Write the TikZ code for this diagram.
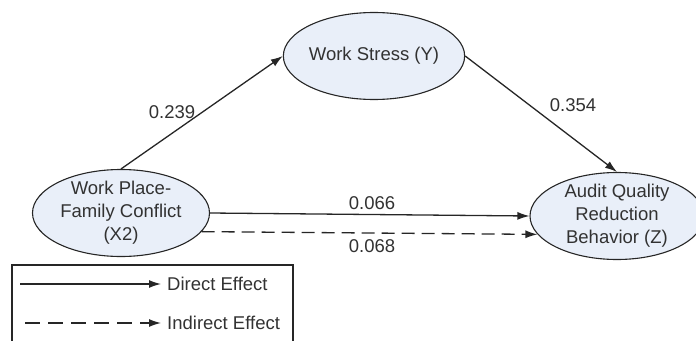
\documentclass[tikz,border=0pt]{standalone}
\usepackage{fontspec}
\setmainfont{Liberation Sans}
\usetikzlibrary{shapes.geometric,arrows.meta}
\definecolor{ellfill}{RGB}{233,239,249}
\definecolor{lineclr}{RGB}{38,38,38}
\definecolor{txtclr}{RGB}{50,50,50}
\begin{document}
\begin{tikzpicture}[x=1pt,y=-1pt,
  every node/.style={font=\fontsize{18.5}{23}\selectfont, text=txtclr},
  var/.style={ellipse, draw=lineclr, line width=1.1pt, fill=ellfill, inner sep=-1pt, align=center, minimum width=177pt, minimum height=87pt},
  conn/.style={draw=lineclr, line width=1.3pt, -{Latex[length=12pt,width=8pt]}},
  dashconn/.style={conn, dash pattern=on 13pt off 7pt},
  lbl/.style={inner sep=0pt}
]
\useasboundingbox (0,0) rectangle (696,340);
\clip (0,0) rectangle (696,340);

\node[var] (X) at (121,213) {Work Place-\\Family Conflict\\(X2)};
\node[var] (Y) at (374,56) {Work Stress (Y)};
\node[var, minimum width=174pt] (Z) at (617,216) {Audit Quality\\Reduction\\Behavior (Z)};

\draw[conn] (X.north) -- (Y.west);
\draw[conn] (Y.east) -- (Z.north);
\draw[conn] (X.east) -- (Z.west);
\draw[dashconn] (X.-13) -- (Z.193);

\node[lbl] (l1) at (172,112) {0.239};
\node[lbl] (l2) at (573,105) {0.354};
\node[lbl] (l3) at (372,203) {0.066};
\node[lbl] (l4) at (372,246) {0.068};

% legend
\draw[lineclr, line width=1.1pt] (12,265) rectangle (293,360);
\node[lbl, anchor=west] (tD) at (167,284) {Direct Effect};
\node[lbl, anchor=west] (tI) at (167,323) {Indirect Effect};
\coordinate (sD) at (20,284);
\coordinate (sI) at (25,323);
\draw[conn, shorten >=6pt] (sD) -- (tD.west);
\draw[dashconn, dash pattern=on 15pt off 8pt, shorten >=6pt] (sI) -- (tI.west);
\end{tikzpicture}
\end{document}
